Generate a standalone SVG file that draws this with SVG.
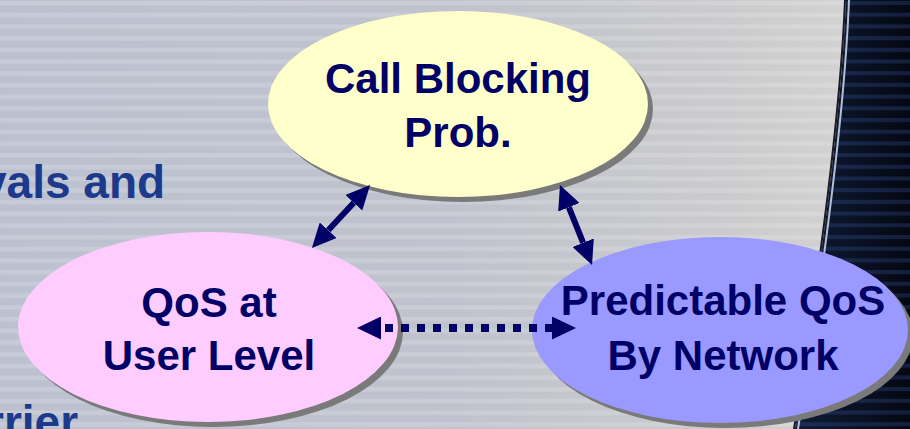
<svg xmlns="http://www.w3.org/2000/svg" width="910" height="429" viewBox="0 0 910 429">
  <defs>
    <linearGradient id="bgGrad" x1="0" y1="0" x2="1" y2="0">
      <stop offset="0" stop-color="#bcc1d0"/>
      <stop offset="0.5" stop-color="#c0c3cd"/>
      <stop offset="0.8" stop-color="#cbcbcd"/>
      <stop offset="0.93" stop-color="#d2d2d2"/>
    </linearGradient>
    <pattern id="stripes" patternUnits="userSpaceOnUse" width="910" height="11.7">
      <rect x="0" y="1" width="910" height="4.5" fill="#ffffff" opacity="0.16"/>
    </pattern>
    <linearGradient id="darkGrad" x1="0" y1="0" x2="1" y2="0">
      <stop offset="0" stop-color="#101b36"/>
      <stop offset="1" stop-color="#040812"/>
    </linearGradient>
    <pattern id="darkStripes" patternUnits="userSpaceOnUse" width="910" height="11.7">
      <rect x="0" y="1" width="910" height="4" fill="#3a5aa8" opacity="0.28"/>
    </pattern>
    <marker id="head" viewBox="0 0 24 23" refX="0" refY="11.5" markerWidth="24" markerHeight="23" markerUnits="userSpaceOnUse" orient="auto-start-reverse">
      <path d="M0,0 L24,11.5 L0,23 Z" fill="#000066"/>
    </marker>
    <style>
      .shadow { fill: #7a7a7a; }
      .label { font-family: "Liberation Sans", Arial, sans-serif; font-weight: bold; font-size: 42px; fill: #000066; text-anchor: middle; }
      .body { font-family: "Liberation Sans", Arial, sans-serif; font-weight: bold; font-size: 46px; fill: #1c3a8c; }
      .conn { stroke: #000066; fill: none; }
      .solid { stroke-width: 6; }
      .dotted { stroke-width: 8; stroke-dasharray: 8 8; stroke-dashoffset: 12; }
    </style>
  </defs>

  <!-- background -->
  <rect x="0" y="0" width="910" height="429" fill="url(#bgGrad)"/>
  <rect x="0" y="0" width="910" height="429" fill="url(#stripes)"/>
  <path d="M846,0 Q840,150 795,429 L910,429 L910,0 Z" fill="url(#darkGrad)"/>
  <path d="M846,0 Q840,150 795,429 L910,429 L910,0 Z" fill="url(#darkStripes)"/>
  <path d="M845,0 Q839,150 794,429" fill="none" stroke="#1a1a22" stroke-width="2"/>
  <path d="M849,0 Q843,150 798,429" fill="none" stroke="#b4c0d4" stroke-width="2"/>

  <!-- body text fragments -->
  <text class="body" x="-19" y="198">vals and</text>
  <text class="body" x="-14" y="438">rrier</text>

  <!-- nodes -->
  <g id="node-call-blocking">
    <ellipse class="shadow" cx="463" cy="109" rx="190" ry="93"/>
    <ellipse cx="458" cy="104" rx="190" ry="93" fill="#ffffcc"/>
    <text class="label" x="458" y="93">Call Blocking</text>
    <text class="label" x="458" y="147">Prob.</text>
  </g>
  <g id="node-qos-user">
    <ellipse class="shadow" cx="213" cy="332" rx="190" ry="95"/>
    <ellipse cx="208" cy="327" rx="190" ry="95" fill="#ffccff"/>
    <text class="label" x="209" y="317">QoS at</text>
    <text class="label" x="209" y="370">User Level</text>
  </g>
  <g id="node-predictable-qos">
    <ellipse class="shadow" cx="725" cy="335" rx="188" ry="93"/>
    <ellipse cx="720" cy="330" rx="188" ry="93" fill="#9999ff"/>
    <text class="label" x="723" y="315">Predictable QoS</text>
    <text class="label" x="723" y="370">By Network</text>
  </g>

  <!-- connectors -->
  <g id="connectors">
    <line class="conn solid" x1="328.2" y1="230.3" x2="353.8" y2="202.7" marker-start="url(#head)" marker-end="url(#head)"/>
    <line class="conn solid" x1="568.9" y1="207.3" x2="583.1" y2="242.7" marker-start="url(#head)" marker-end="url(#head)"/>
    <line class="conn dotted" x1="381" y1="328" x2="552" y2="328" marker-start="url(#head)" marker-end="url(#head)"/>
  </g>
</svg>
